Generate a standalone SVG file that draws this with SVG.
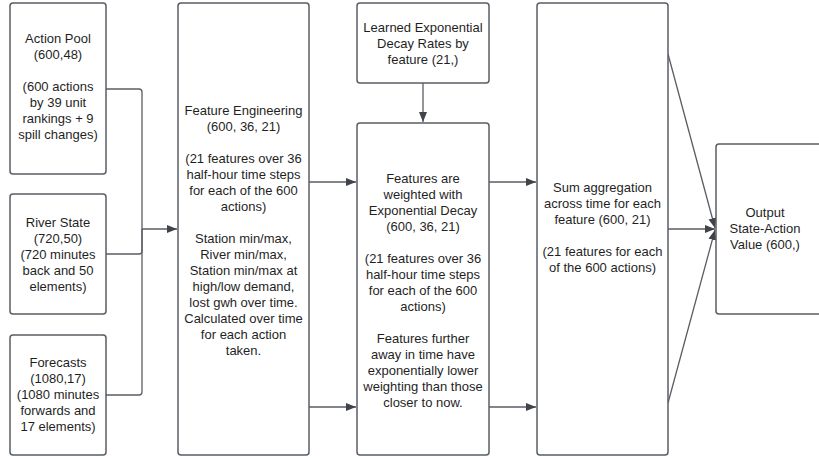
<svg xmlns="http://www.w3.org/2000/svg" width="819" height="456" viewBox="0 0 819 456">
<defs>
<style>
.box{fill:#fff;stroke:#5a5d63;stroke-width:1.5}
.t{font-family:"Liberation Sans",Arial,sans-serif;font-size:13px;fill:#1f1f1f;text-anchor:middle}
.c{fill:none;stroke:#5a5d63;stroke-width:1.3}
</style>
<marker id="ah" viewBox="0 0 10 10" refX="10" refY="5" markerWidth="10" markerHeight="10" markerUnits="userSpaceOnUse" orient="auto">
<path d="M0,1 L10,5 L0,9 Z" fill="#3f434a"/>
</marker>
</defs>
<rect width="819" height="456" fill="#fff"/>
<g id="connectors">
<path class="c" d="M106,89 H139 Q142,89 142,92 V229 H177" marker-end="url(#ah)"/>
<path class="c" d="M106,254 H139 Q142,254 142,251 V229"/>
<path class="c" d="M106,395 H139 Q142,395 142,392 V229"/>
<path class="c" d="M309,182 H356" marker-end="url(#ah)"/>
<path class="c" d="M309,407 H356" marker-end="url(#ah)"/>
<path class="c" d="M423,83 V122" marker-end="url(#ah)"/>
<path class="c" d="M489,182 H536" marker-end="url(#ah)"/>
<path class="c" d="M489,407 H536" marker-end="url(#ah)"/>
<path class="c" d="M668,54 L715,228" marker-end="url(#ah)"/>
<path class="c" d="M668,229 H715" marker-end="url(#ah)"/>
<path class="c" d="M668,403 L715,230" marker-end="url(#ah)"/>
</g>
<g id="action-pool">
<rect class="box" x="10" y="3" width="96" height="171" rx="3"/>
<text class="t" x="58" y="43">Action Pool</text>
<text class="t" x="58" y="59">(600,48)</text>
<text class="t" x="58" y="91">(600 actions</text>
<text class="t" x="58" y="107">by 39 unit</text>
<text class="t" x="58" y="123">rankings + 9</text>
<text class="t" x="58" y="139">spill changes)</text>
</g>
<g id="river-state">
<rect class="box" x="10" y="194" width="96" height="120" rx="3"/>
<text class="t" x="58" y="227">River State</text>
<text class="t" x="58" y="243">(720,50)</text>
<text class="t" x="58" y="259">(720 minutes</text>
<text class="t" x="58" y="275">back and 50</text>
<text class="t" x="58" y="291">elements)</text>
</g>
<g id="forecasts">
<rect class="box" x="10" y="335" width="96" height="120" rx="3"/>
<text class="t" x="58" y="367">Forecasts</text>
<text class="t" x="58" y="383">(1080,17)</text>
<text class="t" x="58" y="399">(1080 minutes</text>
<text class="t" x="58" y="415">forwards and</text>
<text class="t" x="58" y="431">17 elements)</text>
</g>
<g id="feature-engineering">
<rect class="box" x="178" y="3" width="131" height="452" rx="3"/>
<text class="t" x="243.5" y="115">Feature Engineering</text>
<text class="t" x="243.5" y="131">(600, 36, 21)</text>
<text class="t" x="243.5" y="163">(21 features over 36</text>
<text class="t" x="243.5" y="179">half-hour time steps</text>
<text class="t" x="243.5" y="195">for each of the 600</text>
<text class="t" x="243.5" y="211">actions)</text>
<text class="t" x="243.5" y="243">Station min/max,</text>
<text class="t" x="243.5" y="259">River min/max,</text>
<text class="t" x="243.5" y="275">Station min/max at</text>
<text class="t" x="243.5" y="291">high/low demand,</text>
<text class="t" x="243.5" y="307">lost gwh over time.</text>
<text class="t" x="243.5" y="323">Calculated over time</text>
<text class="t" x="243.5" y="339">for each action</text>
<text class="t" x="243.5" y="355">taken.</text>
</g>
<g id="decay-rates">
<rect class="box" x="357" y="3" width="132" height="80" rx="3"/>
<text class="t" x="423" y="32">Learned Exponential</text>
<text class="t" x="423" y="48">Decay Rates by</text>
<text class="t" x="423" y="64">feature (21,)</text>
</g>
<g id="weighted">
<rect class="box" x="357" y="123" width="132" height="332" rx="3"/>
<text class="t" x="423" y="183">Features are</text>
<text class="t" x="423" y="199">weighted with</text>
<text class="t" x="423" y="215">Exponential Decay</text>
<text class="t" x="423" y="231">(600, 36, 21)</text>
<text class="t" x="423" y="263">(21 features over 36</text>
<text class="t" x="423" y="279">half-hour time steps</text>
<text class="t" x="423" y="295">for each of the 600</text>
<text class="t" x="423" y="311">actions)</text>
<text class="t" x="423" y="343">Features further</text>
<text class="t" x="423" y="359">away in time have</text>
<text class="t" x="423" y="375">exponentially lower</text>
<text class="t" x="423" y="391">weighting than those</text>
<text class="t" x="423" y="407">closer to now.</text>
</g>
<g id="sum-aggregation">
<rect class="box" x="537" y="3" width="131" height="452" rx="3"/>
<text class="t" x="602.5" y="192">Sum aggregation</text>
<text class="t" x="602.5" y="208">across time for each</text>
<text class="t" x="602.5" y="224">feature (600, 21)</text>
<text class="t" x="602.5" y="256">(21 features for each</text>
<text class="t" x="602.5" y="272">of the 600 actions)</text>
</g>
<g id="output">
<rect class="box" x="716" y="144" width="120" height="170" rx="3"/>
<text class="t" x="765" y="217">Output</text>
<text class="t" x="765" y="233">State-Action</text>
<text class="t" x="765" y="249">Value (600,)</text>
</g>
</svg>
